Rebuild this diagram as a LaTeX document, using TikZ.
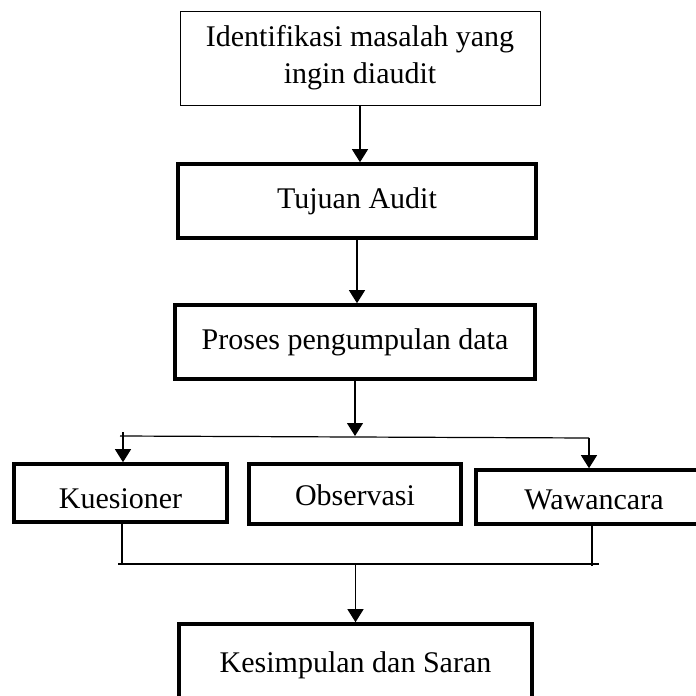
\documentclass[tikz,border=0pt]{standalone}
\usepackage{fontspec}
\setmainfont{Liberation Serif}
\usetikzlibrary{arrows.meta}

\tikzset{
  thinbox/.style={draw,line width=1pt,inner sep=0pt,align=center,font=\fontsize{30}{37}\selectfont},
  thickbox/.style={draw,line width=3.6pt,inner sep=0pt,align=center,font=\fontsize{30}{37}\selectfont},
  link/.style={line width=1.2pt},
  linkarrow/.style={line width=1.2pt,-{Triangle[length=13pt,width=16pt]}}
}

\begin{document}
\begin{tikzpicture}[x=1pt,y=-1pt]
\clip (0,0) rectangle (696,696);
\node[thinbox,minimum width=360pt,minimum height=94pt] (ident) at (360,58) {Identifikasi masalah yang\\ingin diaudit};
\node[thickbox,minimum width=358pt,minimum height=74pt] (tujuan) at (357,201) {Tujuan Audit};
\node[thickbox,minimum width=360pt,minimum height=74pt] (proses) at (355,342) {Proses pengumpulan data};
\node[thickbox,minimum width=213pt,minimum height=58pt] (kues) at (120.5,493) {\raisebox{-15pt}[0pt][0pt]{Kuesioner}};
\node[thickbox,minimum width=212pt,minimum height=60pt] (obs) at (355,494) {\raisebox{-11pt}[0pt][0pt]{Observasi}};
\node[thickbox,minimum width=226pt,minimum height=54pt,text width=226pt] (waw) at (589,497) {\hspace*{10pt}\raisebox{-12pt}[0pt][0pt]{Wawancara}};
\node[thickbox,minimum width=353pt,minimum height=82pt] (kes) at (355.5,665) {Kesimpulan dan Saran};
\coordinate (fanL) at (120,436);
\coordinate (fanR) at (589,438);
\coordinate (joinL) at (118,564);
\coordinate (joinR) at (599,564);
\draw[linkarrow] (ident.south) -- (ident.south |- tujuan.north);
\draw[linkarrow] (tujuan.south) -- (tujuan.south |- proses.north);
\draw[linkarrow] (proses.south) -- (proses.south |- fanL);
\draw[link] (fanL) -- (fanR);
\draw[linkarrow] ([xshift=3pt,yshift=4pt]fanL) -- ([xshift=3pt]fanL |- kues.north);
\draw[linkarrow] (fanR) -- (fanR |- waw.north);
\draw[link] ([xshift=2pt]kues.south west -| fanL) -- ([xshift=2pt]joinL -| fanL);
\draw[link] (waw.south -| 592,0) -- (592,566);
\draw[link] (joinL) -- (joinR);
\draw[linkarrow] (kes.north |- joinL) -- (kes.north);
\end{tikzpicture}
\end{document}
